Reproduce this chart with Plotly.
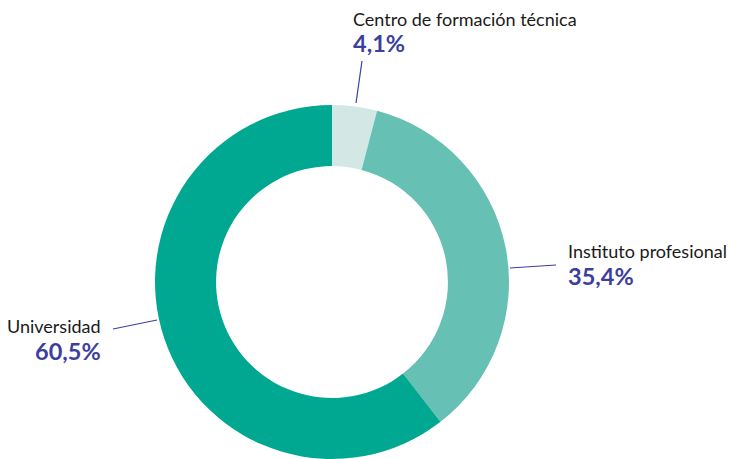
import plotly.graph_objects as go

labels = ["Centro de formación técnica", "Instituto profesional", "Universidad"]
values = [4.1, 35.4, 60.5]
colors = ["#d3e8e5", "#66c0b3", "#00a892"]

W, H = 729, 459
BLUE = "#3c3f9f"
FONT = "Lato"

def px(x):
    return x / W

def py(y):
    return 1 - y / H

R = 177
CX = 332
fig = go.Figure(go.Pie(
    labels=labels, values=values, sort=False, direction="clockwise", rotation=0,
    hole=0.655, marker=dict(colors=colors, line=dict(width=0)),
    textinfo="none", showlegend=False,
    domain=dict(x=[(CX - R) / W, (CX + R) / W], y=[0, 2 * R / H]),
))

# label placement: (x, name y, pct y, anchor) in window pixels
label_pos = [
    (352, 19, 43, "left"),
    (567, 251, 276, "left"),
    (102, 326, 351, "right"),
]
leaders = [
    ((356, 103), (362, 61)),
    ((510, 268), (556, 265)),
    ((113, 329), (157, 320)),
]

for lab, val, (x, yn, yp, anc), ((x0, y0), (x1, y1)) in zip(labels, values, label_pos, leaders):
    pct = f"{val:.1f}".replace(".", ",") + "%"
    fig.add_annotation(x=px(x), y=py(yn), xref="paper", yref="paper", text=lab,
                       showarrow=False, xanchor=anc, yanchor="middle", borderpad=0,
                       font=dict(family=FONT, size=18, color="#1a1a1a"))
    fig.add_annotation(x=px(x), y=py(yp), xref="paper", yref="paper", text=f"<b>{pct}</b>",
                       showarrow=False, xanchor=anc, yanchor="middle", borderpad=0,
                       font=dict(family=FONT, size=23.5, color=BLUE))
    fig.add_shape(type="line", xref="paper", yref="paper",
                  x0=px(x0), y0=py(y0), x1=px(x1), y1=py(y1),
                  line=dict(color=BLUE, width=1.2))

fig.update_layout(width=W, height=H, margin=dict(l=0, r=0, t=0, b=0),
                  paper_bgcolor="white", plot_bgcolor="white")
fig.write_html("out.html", config={"displayModeBar": False},
               post_script="document.body.style.margin='0';document.body.style.overflow='hidden';")
